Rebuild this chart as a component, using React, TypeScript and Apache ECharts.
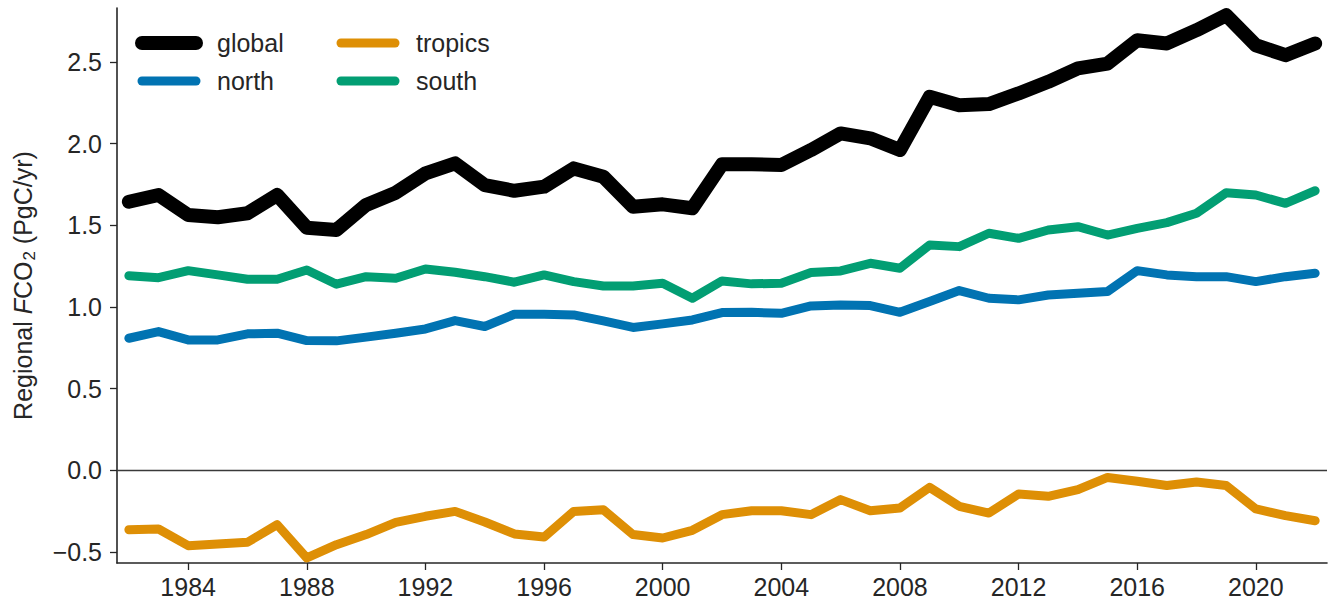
import React, { useEffect, useRef } from "react";
import * as echarts from "echarts";

const years = [
  1982, 1983, 1984, 1985, 1986, 1987, 1988, 1989, 1990, 1991,
  1992, 1993, 1994, 1995, 1996, 1997, 1998, 1999, 2000, 2001,
  2002, 2003, 2004, 2005, 2006, 2007, 2008, 2009, 2010, 2011,
  2012, 2013, 2014, 2015, 2016, 2017, 2018, 2019, 2020, 2021, 2022,
];

const globalFlux = [
  1.644, 1.685, 1.563, 1.549, 1.573, 1.685, 1.485, 1.471, 1.624, 1.699,
  1.818, 1.879, 1.746, 1.711, 1.736, 1.848, 1.797, 1.613, 1.628, 1.604,
  1.873, 1.873, 1.869, 1.960, 2.062, 2.032, 1.960, 2.286, 2.235, 2.242,
  2.307, 2.378, 2.460, 2.490, 2.633, 2.613, 2.694, 2.786, 2.602, 2.541, 2.613,
];

const northFlux = [
  0.808, 0.849, 0.798, 0.798, 0.835, 0.839, 0.794, 0.792, 0.815, 0.839,
  0.865, 0.916, 0.880, 0.955, 0.955, 0.951, 0.914, 0.874, 0.896, 0.920,
  0.965, 0.967, 0.961, 1.006, 1.012, 1.008, 0.967, 1.033, 1.100, 1.053,
  1.043, 1.073, 1.084, 1.094, 1.222, 1.196, 1.185, 1.185, 1.155, 1.185, 1.206,
];

const tropicsFlux = [
  -0.364, -0.360, -0.462, -0.452, -0.441, -0.333, -0.537, -0.456, -0.394, -0.319,
  -0.282, -0.252, -0.317, -0.390, -0.409, -0.252, -0.242, -0.394, -0.415, -0.368,
  -0.272, -0.248, -0.248, -0.272, -0.180, -0.248, -0.231, -0.105, -0.221, -0.262,
  -0.146, -0.160, -0.119, -0.044, -0.068, -0.093, -0.072, -0.093, -0.237, -0.278, -0.309,
];

const southFlux = [
  1.191, 1.179, 1.222, 1.196, 1.169, 1.169, 1.226, 1.139, 1.185, 1.175,
  1.232, 1.212, 1.185, 1.151, 1.196, 1.155, 1.128, 1.128, 1.145, 1.053,
  1.159, 1.141, 1.145, 1.210, 1.220, 1.267, 1.237, 1.379, 1.369, 1.451,
  1.420, 1.471, 1.491, 1.440, 1.481, 1.516, 1.573, 1.699, 1.685, 1.634, 1.711,
];

const xTickYears = [1984, 1988, 1992, 1996, 2000, 2004, 2008, 2012, 2016, 2020];
const yTickValues = [-0.5, 0.0, 0.5, 1.0, 1.5, 2.0, 2.5];

const TEXT = "#262626";
const FONT = "'Liberation Sans', Arial, sans-serif";
const FS = 25;

const COLORS = {
  global: "#000000",
  north: "#0173B2",
  tropics: "#DE8F05",
  south: "#029E73",
};

function pairs(vals: number[]) {
  return years.map((y, i) => [y, vals[i]]);
}

function capsule(w: number, h: number) {
  const r = h / 2;
  return `path://M${r},0H${w - r}A${r},${r},0,0,1,${w - r},${h}H${r}A${r},${r},0,0,1,${r},0Z`;
}

function legendFor(name: string, left: number, centerY: number, w: number, h: number, pad: number) {
  return {
    data: [{ name, icon: capsule(w, h) }],
    left,
    top: centerY - FS / 2,
    padding: 0,
    itemWidth: w,
    itemHeight: h,
    itemStyle: { borderWidth: 0 },
    selectedMode: false,
    textStyle: { fontSize: FS, color: TEXT, fontFamily: FONT, padding: [0, 0, 0, pad] },
  };
}

export default function App() {
  const ref = useRef<HTMLDivElement>(null);

  useEffect(() => {
    if (!ref.current) return;
    const chart = echarts.init(ref.current, null, { renderer: "svg" });

    const mkSeries = (name: string, vals: number[], color: string, width: number, z: number) => ({
      name,
      type: "line",
      data: pairs(vals),
      showSymbol: false,
      symbol: "none",
      color,
      z,
      lineStyle: { color, width, cap: "round", join: "round" },
      itemStyle: { color, borderWidth: 0 },
      emphasis: { disabled: true },
    });

    const option: any = {
      animation: false,
      textStyle: { fontFamily: FONT },
      grid: { left: 117, right: 3, top: 8, bottom: 39, containLabel: false },
      legend: [
        legendFor("global", 135, 43, 68, 14, 9),
        legendFor("north", 137.5, 81, 63, 9, 11.5),
        legendFor("tropics", 336.5, 43, 63, 9, 11.5),
        legendFor("south", 336.5, 81, 63, 9, 11.5),
      ],
      xAxis: {
        type: "value",
        min: 1981.6,
        max: 2022.4,
        splitLine: { show: false },
        axisLine: { show: true, onZero: false, lineStyle: { color: TEXT, width: 1.6 } },
        axisTick: { show: true, length: 7, lineStyle: { color: TEXT, width: 1.3 }, customValues: xTickYears },
        axisLabel: {
          show: true,
          margin: 11,
          fontSize: FS,
          color: TEXT,
          fontFamily: FONT,
          customValues: xTickYears,
          formatter: (v: number) => String(v),
        },
      },
      yAxis: {
        type: "value",
        min: -0.568,
        max: 2.83,
        splitLine: { show: false },
        axisLine: { show: true, onZero: false, lineStyle: { color: TEXT, width: 1.6 } },
        axisTick: { show: true, length: 7, lineStyle: { color: TEXT, width: 1.3 }, customValues: yTickValues },
        axisLabel: {
          show: true,
          margin: 15,
          fontSize: FS,
          color: TEXT,
          fontFamily: FONT,
          customValues: yTickValues,
          formatter: (v: number) => (v < 0 ? "\u2212" + Math.abs(v).toFixed(1) : v.toFixed(1)),
        },
        name: "{a|Regional }{i|F}{a|CO}{s|2}{a| (PgC/yr)}",
        nameLocation: "middle",
        nameGap: 79,
        nameRotate: 90,
        nameTextStyle: {
          color: TEXT,
          fontSize: FS,
          fontFamily: FONT,
          rich: {
            a: { fontSize: FS, lineHeight: 31, color: TEXT, fontFamily: FONT },
            i: { fontSize: FS, lineHeight: 31, color: TEXT, fontFamily: FONT, fontStyle: "italic" },
            s: { fontSize: 17, lineHeight: 17, color: TEXT, fontFamily: FONT, verticalAlign: "bottom", padding: [0, 0, 0, 1] },
          },
        },
      },
      series: [
        {
          ...mkSeries("global", globalFlux, COLORS.global, 14, 5),
          markLine: {
            silent: true,
            symbol: "none",
            label: { show: false },
            lineStyle: { color: "#3a3a3a", width: 1.3, type: "solid" },
            data: [{ yAxis: 0 }],
            z: 1,
          },
        },
        mkSeries("north", northFlux, COLORS.north, 9, 4),
        mkSeries("tropics", tropicsFlux, COLORS.tropics, 9, 3),
        mkSeries("south", southFlux, COLORS.south, 9, 4),
      ],
    };

    chart.setOption(option);
    return () => chart.dispose();
  }, []);

  return (
    <div
      ref={ref}
      style={{ position: "fixed", left: 0, top: 0, width: 1330, height: 602, background: "#fff" }}
    />
  );
}
